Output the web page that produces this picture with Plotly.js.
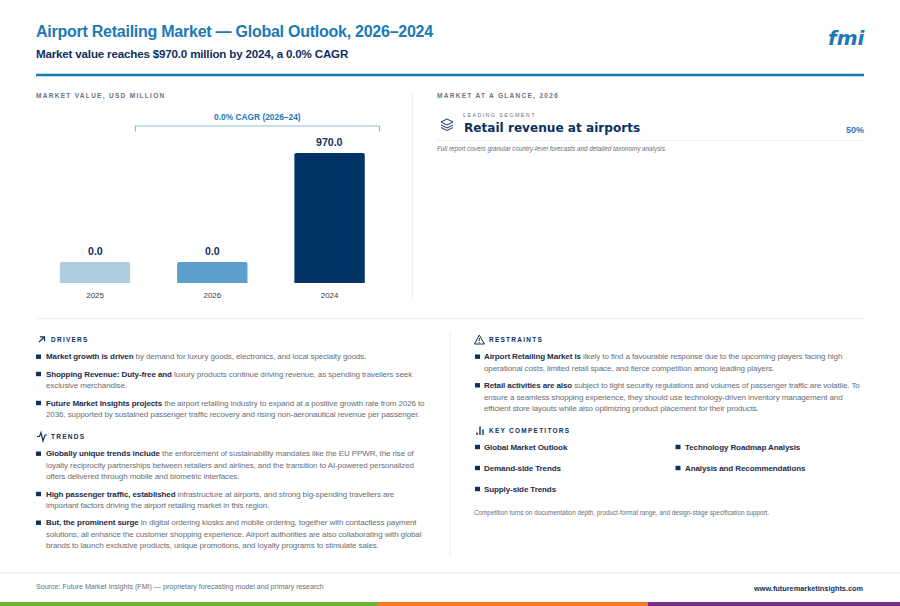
<!DOCTYPE html>
<html><head><meta charset="utf-8">
<script src="https://cdn.plot.ly/plotly-3.0.1.min.js"></script>
<style>html,body{margin:0;padding:0;background:#fff}#chart{width:900px;height:606px}</style>
</head><body><div id="chart"></div>
<script>
// ---- data ----
const categories = ["2025", "2026", "2024"];
const barHeights = [157, 157, 970];           // drawn bar heights as they appear
const barLabels = ["0.0", "0.0", "970.0"];    // printed value labels
const barColors = ["#b0cce1", "#5c9fca", "#003366"];

const titleText = "Airport Retailing Market — Global Outlook, 2026–2024";
const subtitleText = "Market value reaches $970.0 million by 2024, a 0.0% CAGR";

const driverLines = [
  [356.7, "<b>Market growth is driven</b> by demand for luxury goods, electronics, and local specialty goods.", true],
  [374, "<b>Shopping Revenue: Duty-free and</b> luxury products continue driving revenue, as spending travellers seek", true],
  [385.3, "exclusive merchandise.", false],
  [403, "<b>Future Market Insights projects</b> the airport retailing industry to expand at a positive growth rate from 2026 to", true],
  [414.3, "2036, supported by sustained passenger traffic recovery and rising non-aeronautical revenue per passenger.", false]
];
const trendLines = [
  [453.7, "<b>Globally unique trends include</b> the enforcement of sustainability mandates like the EU PPWR, the rise of", true],
  [465, "loyalty reciprocity partnerships between retailers and airlines, and the transition to AI-powered personalized", false],
  [476.3, "offers delivered through mobile and biometric interfaces.", false],
  [494, "<b>High passenger traffic, established</b> infrastructure at airports, and strong big-spending travellers are", true],
  [505.3, "important factors driving the airport retailing market in this region.", false],
  [522.7, "<b>But, the prominent surge</b> in digital ordering kiosks and mobile ordering, together with contactless payment", true],
  [534, "solutions, all enhance the customer shopping experience. Airport authorities are also collaborating with global", false],
  [545.3, "brands to launch exclusive products, unique promotions, and loyalty programs to stimulate sales.", false]
];
const restraintLines = [
  [356.7, "<b>Airport Retailing Market is</b> likely to find a favourable response due to the upcoming players facing high", true],
  [368, "operational costs, limited retail space, and fierce competition among leading players.", false],
  [385.3, "<b>Retail activities are also</b> subject to tight security regulations and volumes of passenger traffic are volatile. To", true],
  [397, "ensure a seamless shopping experience, they should use technology-driven inventory management and", false],
  [408.3, "efficient store layouts while also optimizing product placement for their products.", false]
];
const competitorsLeft = ["Global Market Outlook", "Demand-side Trends", "Supply-side Trends"];
const competitorsRight = ["Technology Roadmap Analysis", "Analysis and Recommendations"];

// ---- palette ----
const BLUE = "#1a7ab5", NAVY = "#0f2f5f", INK = "#1d2b4a", GREY = "#696e76", FONT = "Liberation Sans, Arial, sans-serif";

// ---- pixel helpers (page furniture only) ----
const X = p => p / 900, Y = p => 1 - p / 606;
const annotations = [], shapes = [], spacing = [];
function txt(x, y, text, size, color, opt) {
  opt = opt || {};
  annotations.push({
    xref: "paper", yref: "paper", x: X(x), y: Y(y), text: text, showarrow: false,
    xanchor: opt.anchor || "left", yanchor: "middle", align: opt.anchor || "left",
    borderpad: 0, borderwidth: 0,
    font: {family: opt.family || FONT, size: size, color: color, weight: opt.weight || 400, style: opt.style || "normal"}
  });
  spacing.push(opt.ls || 0);
}
function line(x0, y0, x1, y1, color, w) {
  shapes.push({type: "line", xref: "paper", yref: "paper", x0: X(x0), y0: Y(y0), x1: X(x1), y1: Y(y1), line: {color: color, width: w}});
}
function rect(x0, y0, x1, y1, color) {
  shapes.push({type: "rect", xref: "paper", yref: "paper", x0: X(x0), y0: Y(y0), x1: X(x1), y1: Y(y1), fillcolor: color, line: {width: 0}});
}
function icon(d, color, w) {
  let i = 0;
  const path = d.replace(/-?\d+(\.\d+)?/g, m => (i++ % 2 === 0 ? X(+m) : Y(+m)).toFixed(5));
  shapes.push({type: "path", xref: "paper", yref: "paper", path: path, line: {color: color, width: w}});
}
const BODY = 8, BODY_LS = -0.1;
const HEAD = {weight: 700, ls: 1.25};
function bulletText(rows, bx, tx) {
  rows.forEach(r => {
    txt(tx, r[0], r[1].replace("<b>", '<b style="color:' + INK + '">'), BODY, GREY, {ls: BODY_LS});
    if (r[2]) rect(bx, r[0] - 2.2, bx + 5, r[0] + 2.2, NAVY);
  });
}

// ---- header ----
txt(36, 32, titleText, 16, BLUE, {weight: 700, ls: -0.25});
txt(36, 53.5, subtitleText, 11.6, NAVY, {weight: 700, ls: -0.18});
txt(865.5, 38, "fmi", 20, BLUE, {weight: 700, style: "italic", anchor: "right", family: "DejaVu Sans"});
line(36, 75, 864, 75, BLUE, 2.4);

// ---- left panel ----
txt(36, 96, "MARKET VALUE, USD MILLION", 6.5, "#6b7280", {weight: 700, ls: 1.3});
txt(257.5, 117.3, "0.0% CAGR (2026–24)", 8.4, BLUE, {weight: 700, anchor: "center"});
icon("M135.5 131.5 L135.5 126 L379.5 126 L379.5 131.5", "#8fbdd8", 1.2);
line(412.5, 93, 412.5, 298, "#eceff2", 1);

// ---- right panel ----
txt(437, 96, "MARKET AT A GLANCE, 2026", 6.5, "#6b7280", {weight: 700, ls: 1.3});
txt(463, 115.5, "LEADING SEGMENT", 5.4, "#6b7280", {ls: 1.4});
txt(463.5, 128, "Retail revenue at airports", 12.1, "#0a3161", {weight: 700, family: "DejaVu Sans"});
txt(863.5, 129.5, "50%", 9, "#2a7ab5", {weight: 700, anchor: "right"});
line(437, 140.5, 864, 140.5, "#eef0f3", 1);
txt(437, 149.5, "Full report covers granular country-level forecasts and detailed taxonomy analysis.", 6.3, GREY, {style: "italic"});
icon("M447 119 L453 122 L447 125 L441 122 Z", NAVY, 1);
icon("M441 125 L447 128 L453 125", NAVY, 1);
icon("M441 127.5 L447 130.5 L453 127.5", NAVY, 1);

// ---- separators ----
line(36, 318.5, 864, 318.5, "#eef0f3", 1.5);
line(450, 331, 450, 557, "#eceff2", 1);
line(0, 573, 900, 573, "#e8ecef", 1);

// ---- drivers ----
icon("M39 342 L44.5 336.8 M40 336.8 L44.5 336.8 L44.5 341.3", NAVY, 1.2);
txt(51, 339.3, "DRIVERS", 6.5, NAVY, HEAD);
bulletText(driverLines, 36, 46);

// ---- trends ----
icon("M37 436.5 L39.5 436.5 L41 432.5 L43 441 L45 435 L47 435", NAVY, 1.2);
txt(51, 436.3, "TRENDS", 6.5, NAVY, HEAD);
bulletText(trendLines, 36, 46);

// ---- restraints ----
icon("M479.3 335 L484.5 344 L474.5 344 Z", NAVY, 1);
icon("M479.3 338 L479.3 341 M479.3 342 L479.3 343", NAVY, 1);
txt(488.5, 339.3, "RESTRAINTS", 6.5, NAVY, HEAD);
bulletText(restraintLines, 475, 484);

// ---- key competitors ----
icon("M477 435 L477 432.5 M480 435 L480 426.5 M483 435 L483 429.5", NAVY, 1.4);
txt(488.5, 430, "KEY COMPETITORS", 6.5, NAVY, HEAD);
competitorsLeft.forEach((t, i) => {
  const y = 447 + 21 * i;
  rect(475, y - 2.2, 480, y + 2.2, NAVY);
  txt(484, y, t, BODY, INK, {weight: 700, ls: BODY_LS});
});
competitorsRight.forEach((t, i) => {
  const y = 447 + 21 * i;
  rect(675.5, y - 2.2, 680.5, y + 2.2, NAVY);
  txt(685, y, t, BODY, INK, {weight: 700, ls: BODY_LS});
});
txt(474, 513, "Competition turns on documentation depth, product-format range, and design-stage specification support.", 6.33, GREY);

// ---- footer ----
txt(36, 587.3, "Source: Future Market Insights (FMI) — proprietary forecasting model and primary research", 7.1, GREY);
txt(863.5, 588, "www.futuremarketinsights.com", 7.35, NAVY, {weight: 700, anchor: "right"});
rect(0, 602, 378, 606, "#6cb23d");
rect(378, 602, 648, 606, "#f27c2a");
rect(648, 602, 900, 606, "#7b2d8b");

// ---- chart ----
categories.forEach((c, i) => {
  annotations.push({
    xref: "x", yref: "y", x: i, y: barHeights[i], yshift: 11, text: barLabels[i], showarrow: false,
    xanchor: "center", yanchor: "middle", borderpad: 0, borderwidth: 0,
    font: {family: FONT, size: 10.6, color: NAVY, weight: 700}
  });
  spacing.push(0);
});
const trace = {
  type: "bar", x: categories, y: barHeights, cliponaxis: false,
  marker: {color: barColors, line: {width: 0}, cornerradius: 2},
  width: 0.6, hoverinfo: "skip"
};
const layout = {
  width: 900, height: 606, margin: {l: 0, r: 0, t: 0, b: 0},
  paper_bgcolor: "#fff", plot_bgcolor: "#fff", showlegend: false,
  xaxis: {domain: [X(36.4), X(388.2)], type: "category", categoryorder: "array", categoryarray: categories,
          range: [-0.5, 2.5], showgrid: false, zeroline: false, showline: false, ticks: "", automargin: false, ticklabelstandoff: 6,
          tickfont: {family: FONT, size: 7.9, color: "#333a45"}},
  yaxis: {domain: [Y(283), Y(113)], range: [0, 1268.5], showgrid: false, zeroline: false, showline: false,
          showticklabels: false, ticks: "", automargin: false},
  annotations: annotations, shapes: shapes
};
Plotly.newPlot("chart", [trace], layout, {displayModeBar: false, staticPlot: true}).then(() => {
  document.querySelectorAll("#chart .annotation").forEach(g => {
    const i = +g.getAttribute("data-index");
    if (spacing[i]) g.querySelectorAll("text").forEach(t => t.style.letterSpacing = spacing[i] + "px");
  });
});
</script></body></html>
